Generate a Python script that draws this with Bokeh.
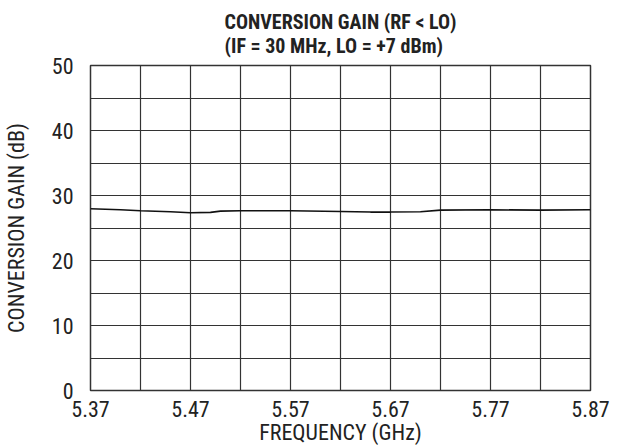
from bokeh.plotting import figure
from bokeh.models import FixedTicker, Title, Range1d
from bokeh.embed import file_html
from bokeh.resources import INLINE

freq_ghz = [5.37, 5.40, 5.42, 5.45, 5.47, 5.49, 5.50, 5.52, 5.57, 5.62, 5.65, 5.67, 5.70, 5.72, 5.77, 5.82, 5.87]
gain_db = [27.95, 27.8, 27.65, 27.5, 27.35, 27.4, 27.6, 27.65, 27.65, 27.55, 27.45, 27.45, 27.5, 27.75, 27.8, 27.75, 27.8]

x_ticks = [5.37, 5.47, 5.57, 5.67, 5.77, 5.87]
x_grid = [5.37, 5.42, 5.47, 5.52, 5.57, 5.62, 5.67, 5.72, 5.77, 5.82, 5.87]
y_ticks = [0, 10, 20, 30, 40, 50]
y_grid = [0, 5, 10, 15, 20, 25, 30, 35, 40, 45, 50]
title_lines = ["CONVERSION GAIN (RF < LO)", "(IF = 30 MHz, LO = +7 dBm)"]

FONT = "'Liberation Sans Narrow', 'Arial Narrow', 'Roboto Condensed', sans-serif"

p = figure(width=610, height=447, output_backend="svg", toolbar_location=None,
           x_range=Range1d(5.37, 5.87), y_range=Range1d(0, 50))
p.min_border_left = 88
p.min_border_right = 20
p.min_border_top = 13
p.min_border_bottom = 57

p.add_layout(Title(text="\n".join(title_lines), align="center",
                   text_font=FONT, text_font_size="20px", text_font_style="bold",
                   text_line_height=1.0,
                   text_color="#222222", standoff=15), "above")

p.line(freq_ghz, gain_db, line_color="#111111", line_width=1.6)

p.xaxis.ticker = FixedTicker(ticks=x_ticks)
p.xaxis.major_label_overrides = {t: f"{t:.2f}" for t in x_ticks}
p.yaxis.ticker = FixedTicker(ticks=y_ticks)
p.xgrid.ticker = FixedTicker(ticks=x_grid)
p.ygrid.ticker = FixedTicker(ticks=y_grid)

for g in (p.xgrid, p.ygrid):
    g.grid_line_color = "#333333"
    g.grid_line_width = 1.2
    g.grid_line_alpha = 1.0

for ax in (p.xaxis, p.yaxis):
    ax.axis_line_color = None
    ax.major_tick_line_color = None
    ax.minor_tick_line_color = None
    ax.major_label_text_font = FONT
    ax.major_label_text_font_size = "22px"
    ax.major_label_text_color = "#222222"
    ax.axis_label_text_font = FONT
    ax.axis_label_text_font_size = "22px"
    ax.axis_label_text_font_style = "normal"
    ax.axis_label_text_color = "#222222"

p.xaxis.axis_label = "FREQUENCY (GHz)"
p.yaxis.axis_label = "CONVERSION GAIN (dB)"
p.xaxis.major_label_standoff = 4
p.xaxis.axis_label_standoff = 0
p.yaxis.major_label_standoff = 11
p.yaxis.axis_label_standoff = 20

p.outline_line_color = "#333333"
p.outline_line_width = 1.5
p.background_fill_color = "white"
p.border_fill_color = "white"

open("out.html", "w").write(file_html(p, INLINE))
